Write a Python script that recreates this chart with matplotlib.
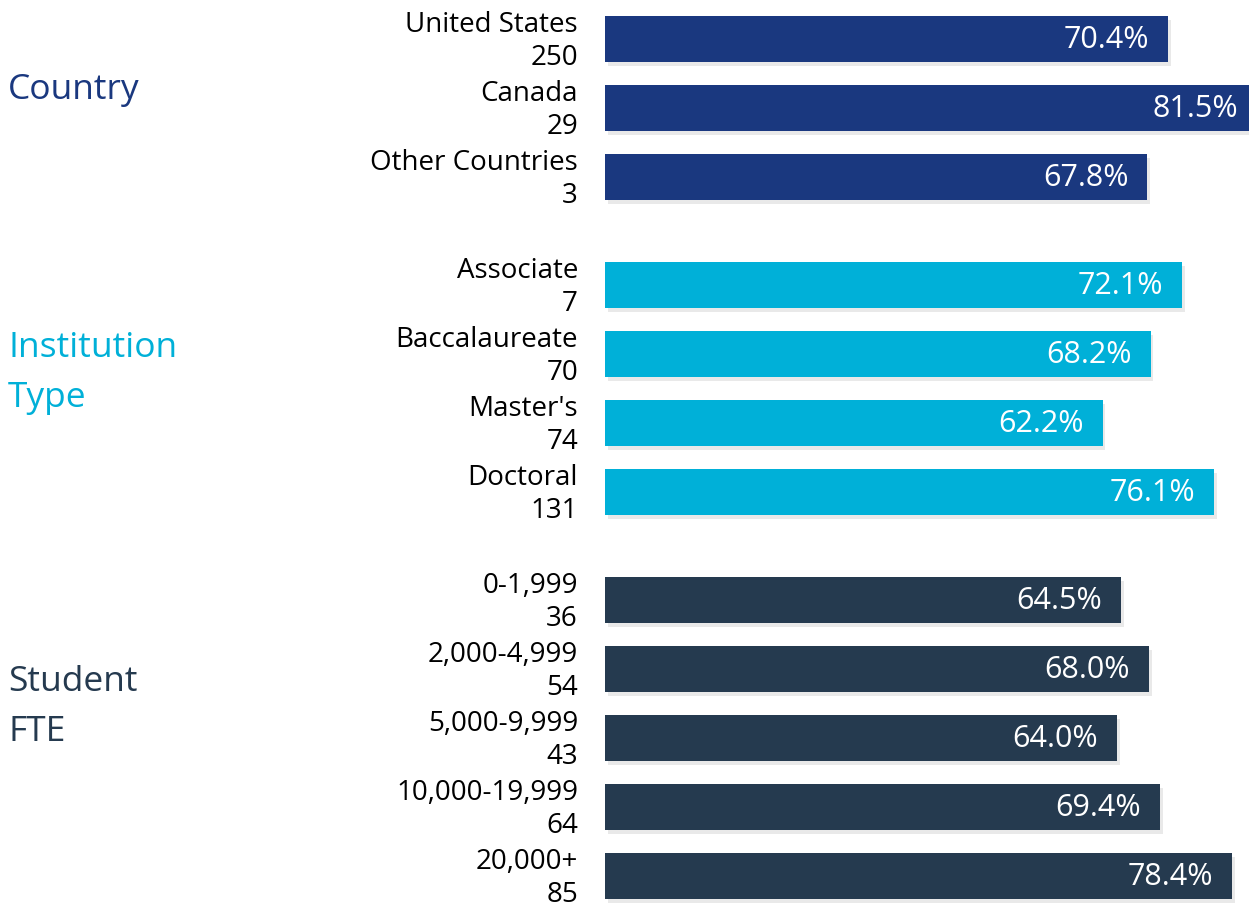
import matplotlib
matplotlib.use("Agg")
import matplotlib.pyplot as plt
import matplotlib.patheffects as pe

# data
groups = ["Country", "Institution\nType", "Student\nFTE"]
group_colors = ["#1a387f", "#00b0d8", "#253a4f"]

country_names = ["United States", "Canada", "Other Countries"]
country_counts = [250, 29, 3]
country_pct = [70.4, 81.5, 67.8]

inst_names = ["Associate", "Baccalaureate", "Master's", "Doctoral"]
inst_counts = [7, 70, 74, 131]
inst_pct = [72.1, 68.2, 62.2, 76.1]

fte_names = ["0-1,999", "2,000-4,999", "5,000-9,999", "10,000-19,999", "20,000+"]
fte_counts = [36, 54, 43, 64, 85]
fte_pct = [64.5, 68.0, 64.0, 69.4, 78.4]

FONT = ["Open Sans", "DejaVu Sans"]
plt.rcParams["font.family"] = FONT

W, H = 1249, 907
fig = plt.figure(figsize=(W / 100, H / 100), dpi=100)

# axes: bars start at x=605 px; row centers run from y=39 to y=876 px
row_gap = 1.0
group_gap = 1.565
bar_h = 0.667

ax = fig.add_axes([605 / W, 0, 1 - 605 / W, 1])
ax.set_xlim(0, 644 / 8.0)
ax.axis("off")

sections = [
    (country_names, country_counts, country_pct),
    (inst_names, inst_counts, inst_pct),
    (fte_names, fte_counts, fte_pct),
]

pos = 0.0
first = True
for (names, counts, pct), color in zip(sections, group_colors):
    if not first:
        pos += group_gap - row_gap
    first = False
    for name, n, v in zip(names, counts, pct):
        ax.barh(pos, v, height=bar_h, color=color, clip_on=False,
                path_effects=[pe.SimplePatchShadow(offset=(2, -3), alpha=0.18,
                                                   shadow_rgbFace="#888888"),
                              pe.Normal()])
        ax.annotate(f"{v:.1f}%", xy=(v, pos), xytext=(-19, -1),
                    textcoords="offset pixels", ha="right", va="center",
                    color="white", fontsize=22, annotation_clip=False)
        ax.annotate(name, xy=(0, pos), xytext=(-27, 7),
                    textcoords="offset pixels", ha="right", va="baseline",
                    color="black", fontsize=20, annotation_clip=False)
        ax.annotate(str(n), xy=(0, pos), xytext=(-27, -26),
                    textcoords="offset pixels", ha="right", va="baseline",
                    color="black", fontsize=20, annotation_clip=False)
        pos += row_gap
last = pos - row_gap

# map row positions to pixel rows 39 .. 876 (inverted axis)
scale = (876 - 39) / last
ax.set_ylim(last + (H - 876) / scale, -39 / scale)

# group titles on the left
title_y = [90, 373, 707]
for text, color, y in zip(groups, group_colors, title_y):
    fig.text(8 / W, 1 - y / H, text, ha="left", va="center", color=color,
             fontsize=25.5, linespacing=1.65)

fig.savefig("out.png", dpi=100)
